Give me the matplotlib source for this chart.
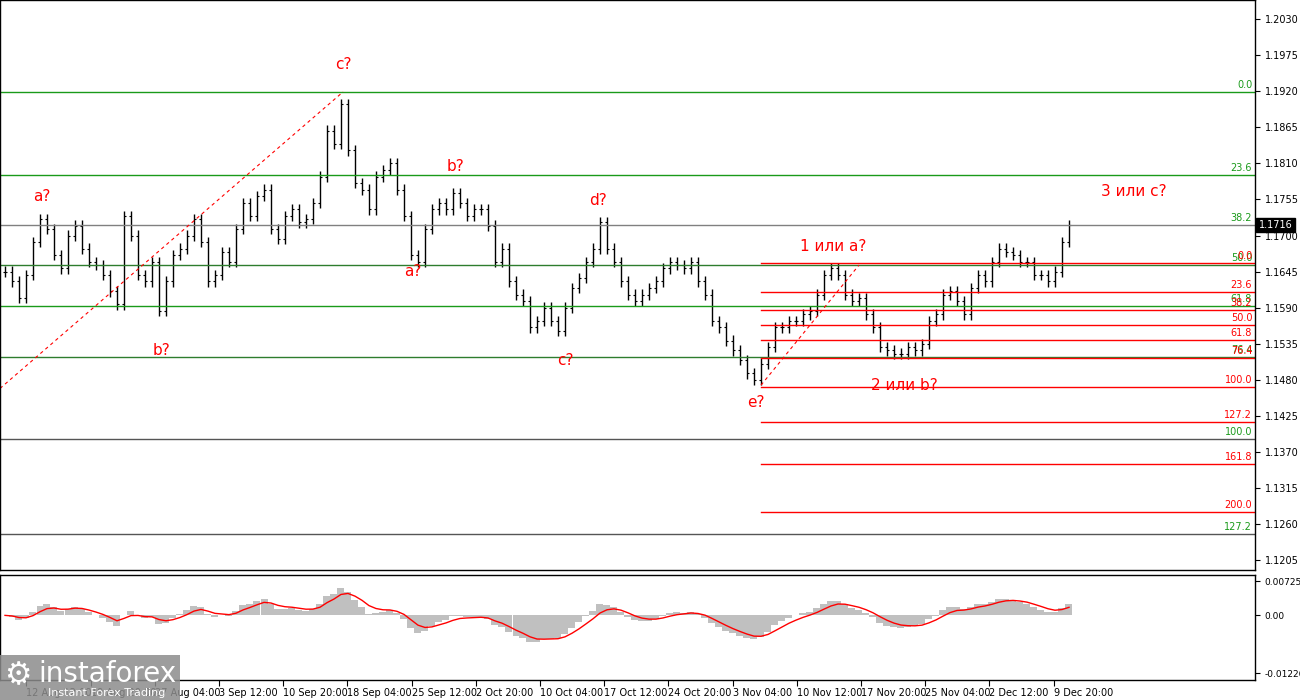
import numpy as np
import matplotlib.pyplot as plt
from matplotlib.patches import Rectangle

# closes in pips above 1.1600, one per bar
close_pips = [
    45, 30, 5, 40, 90, 125,
    110, 70, 50, 100, 115, 80, 60,
    55, 40, 15, -5, 130,
    100, 40, 30, 60, -15,
    30, 70, 80, 100, 125,
    90, 30, 40, 75, 60,
    110, 150, 130, 160, 170,
    110, 95, 130, 140, 120,
    125, 150, 190, 260, 240,
    300, 230, 180, 170, 140,
    190, 200, 210, 170, 130,
    70, 60, 110, 140, 150,
    140, 165, 150, 130, 140,
    140, 115, 60, 80, 30,
    10, 0, -40, -30, -10,
    -30, -45, -10, 20, 35,
    60, 80, 120, 80, 60,
    30, 10, 0, 10, 20,
    30, 50, 60, 55, 50,
    60, 30, 10, -30, -40,
    -60, -75, -90, -110, -120,
    -95, -70, -40, -40, -30,
    -30, -20, -15, 10, 40,
    50, 40, 10, 0, 5,
    -20, -40, -70, -75, -80,
    -80, -70, -75, -65, -30,
    -20, 10, 15, 0, -20,
    20, 40, 30, 60, 80,
    75, 70, 60, 60, 40,
    40, 30, 45, 90, 116,
]

# full-width fibo levels (price, label, colour)
fibo_full = [
    (1.1919, "0.0", "#1a9a1a"),
    (1.1792, "23.6", "#1a9a1a"),
    (1.1716, "38.2", "#808080"),
    (1.1655, "50.0", "#2e7d2e"),
    (1.1593, "61.8", "#1a9a1a"),
    (1.1515, "76.4", "#2e7d2e"),
    (1.1390, "100.0", "#555555"),
    (1.1245, "127.2", "#555555"),
]
# red levels starting at the e? low
fibo_red = [
    (1.1658, "0.0"), (1.1614, "23.6"), (1.1586, "38.2"), (1.1564, "50.0"),
    (1.1541, "61.8"), (1.1513, "76.4"), (1.1469, "100.0"), (1.1416, "127.2"),
    (1.1352, "161.8"), (1.1279, "200.0"),
]

wave_labels = [
    (5.3, 1.1760, "a?"), (22.3, 1.1525, "b?"), (48.3, 1.1960, "c?"),
    (58.3, 1.1645, "a?"), (64.3, 1.1805, "b?"), (80.0, 1.1510, "c?"),
    (84.7, 1.1753, "d?"), (107.2, 1.1445, "e?"), (118.3, 1.1683, "1 или a?"),
    (128.5, 1.1472, "2 или b?"), (161.2, 1.1767, "3 или с?"),
]

date_ticks = [
    "12 Aug 12:00", "19 Aug 20:00", "27 Aug 04:00", "3 Sep 12:00",
    "10 Sep 20:00", "18 Sep 04:00", "25 Sep 12:00", "2 Oct 20:00", "10 Oct 04:00",
    "17 Oct 12:00", "24 Oct 20:00", "3 Nov 04:00", "10 Nov 12:00", "17 Nov 20:00",
    "25 Nov 04:00", "2 Dec 12:00", "9 Dec 20:00",
]

price_ticks = [1.2030 - 0.0055 * k for k in range(16)]

closes = 1.16 + np.array(close_pips) / 10000.0
opens = np.r_[closes[0], closes[:-1]]
highs = np.maximum(opens, closes) + 0.0008
lows = np.minimum(opens, closes) - 0.0008
x = np.arange(len(closes))

W, H = 1300, 700
xlim = (-5 / 7.0, 1250 / 7.0)

fig = plt.figure(figsize=(13, 7), dpi=100)
ax = fig.add_axes([0, 1 - 570 / H, 1255 / W, 570 / H])
ax2 = fig.add_axes([0, 20 / H, 1255 / W, 105 / H])

# main panel
ax.vlines(x, lows, highs, color="black", lw=1)
ax.hlines(opens, x - 0.3, x, color="black", lw=0.8)
ax.hlines(closes, x, x + 0.3, color="black", lw=0.8)

for p, lab, c in fibo_full:
    ax.axhline(p, color=c, lw=1)
    ax.text(xlim[1] - 0.4, p + 0.0003, lab, color="#1a9a1a", fontsize=7, ha="right", va="bottom")
for p, lab in fibo_red:
    ax.plot([108, xlim[1]], [p, p], color="red", lw=1)
    ax.text(xlim[1] - 0.4, p + 0.0003, lab, color="red", fontsize=7, ha="right", va="bottom")

ax.plot([xlim[0], 48.3], [1.1467, 1.1919], color="red", ls=(0, (3, 3)), lw=0.8)
ax.plot([108, 122], [1.1472, 1.1655], color="red", ls=(0, (3, 3)), lw=0.8)

for xi, yi, t in wave_labels:
    ax.text(xi, yi, t, color="red", fontsize=11, ha="center", va="center")

ax.set_xlim(*xlim)
ax.set_ylim(1.11903, 1.20590)
ax.yaxis.tick_right()
ax.set_yticks(price_ticks)
ax.set_yticklabels([f"{t:.4f}" for t in price_ticks], fontsize=7)
ax.set_xticks([])
ax.text(1.003, 1.1716, "1.1716", transform=ax.get_yaxis_transform(), fontsize=7,
        color="white", va="center", ha="left",
        bbox=dict(boxstyle="square,pad=0.25", fc="black", ec="black"))

# indicator panel (MACD-style oscillator from the closes)
def ema(v, n):
    out = np.empty_like(v)
    a = 2 / (n + 1)
    out[0] = v[0]
    for i in range(1, len(v)):
        out[i] = a * v[i] + (1 - a) * out[i - 1]
    return out

macd = ema(closes, 5) - ema(closes, 14)
signal = ema(macd, 4)
ax2.bar(x, macd, width=1.0, color="#c0c0c0")
ax2.plot(x, signal, color="red", lw=1)
ax2.set_xlim(*xlim)
ax2.set_ylim(-0.01373, 0.00858)
ax2.yaxis.tick_right()
ax2.set_yticks([0.00725, 0.0, -0.01226])
ax2.set_yticklabels(["0.00725", "0.00", "-0.01226"], fontsize=6.5)
tick_px = [219 - 64.2 * 3 + 64.2 * k for k in range(len(date_ticks))]
ax2.set_xticks([(p - 5) / 7.0 for p in tick_px])
ax2.set_xticklabels(date_ticks, fontsize=7, ha="left")
ax2.tick_params(axis="x", length=4, pad=2)

for a in (ax, ax2):
    for sp in a.spines.values():
        sp.set_color("black")
        sp.set_linewidth(1)

# logo
fig.patches.append(Rectangle((0, 0), 180 / W, 45 / H, transform=fig.transFigure,
                             fc="#8c8c8c", ec="none", alpha=0.85, zorder=5))
fig.text(38 / W, 26 / H, "instaforex", color="white", fontsize=20, va="center", zorder=6)
fig.text(48 / W, 7 / H, "Instant Forex Trading", color="white", fontsize=8, va="center", zorder=6)
fig.text(18 / W, 24 / H, "\u2699", color="white", fontsize=22, ha="center", va="center", zorder=6)

fig.savefig("out.png", dpi=100)
